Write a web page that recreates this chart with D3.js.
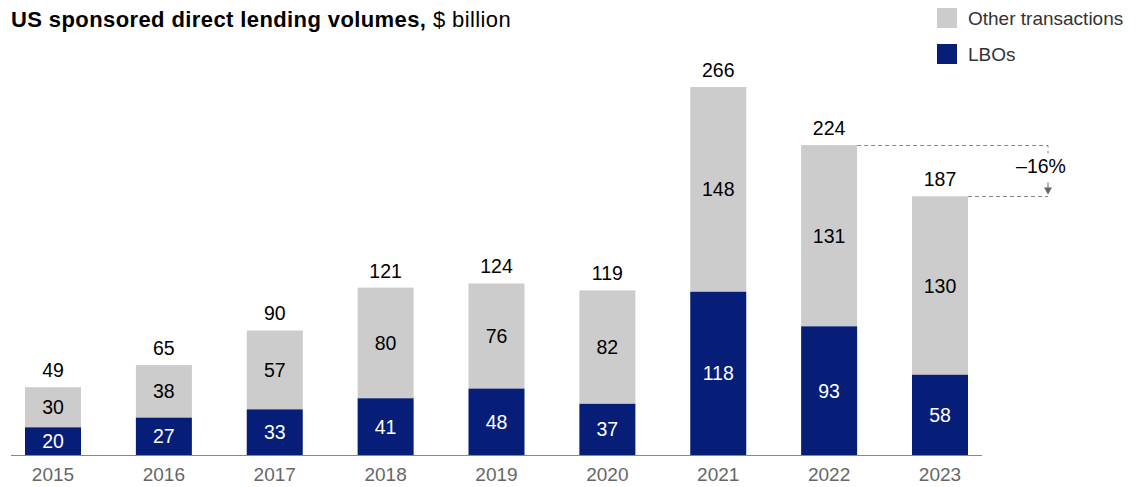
<!DOCTYPE html>
<html>
<head>
<meta charset="utf-8">
<style>
body { margin: 0; background: #fff; }
svg text { font-family: "Liberation Sans", Arial, sans-serif; }
</style>
</head>
<body>
<svg width="1142" height="487"></svg>
<script src="https://cdnjs.cloudflare.com/ajax/libs/d3/7.8.5/d3.min.js"></script>
<script>
// data
var years = ["2015","2016","2017","2018","2019","2020","2021","2022","2023"];
var lbos = [20, 27, 33, 41, 48, 37, 118, 93, 58];
var other = [30, 38, 57, 80, 76, 82, 148, 131, 130];
var totals = [49, 65, 90, 121, 124, 119, 266, 224, 187];
var changeLabel = "\u201316%";

var navy = "#071e78", grey = "#cccccc";

var svg = d3.select("svg");
var baseY = 455;

var x = d3.scalePoint().domain(years).range([53, 940]);
var bw = 56;
var y = d3.scaleLinear().domain([0, 266]).range([baseY, 87]);

// title
var title = svg.append("text").attr("x", 11).attr("y", 27).attr("font-size", 22)
  .attr("letter-spacing", 0.4).attr("fill", "#000");
title.append("tspan").attr("font-weight", "bold").text("US sponsored direct lending volumes,");
title.append("tspan").text(" $ billion");

// legend
var legend = [["Other transactions", grey], ["LBOs", navy]];
var lg = svg.selectAll("g.leg").data(legend).enter().append("g")
  .attr("transform", function(d, i) { return "translate(937," + (8 + i * 36) + ")"; });
lg.append("rect").attr("width", 20).attr("height", 20).attr("fill", function(d) { return d[1]; });
lg.append("text").attr("x", 31).attr("y", 17).attr("font-size", 19).attr("fill", "#333").text(function(d) { return d[0]; });

// bars
var g = svg.append("g");
years.forEach(function(yr, i) {
  var cx = x(yr);
  var lboTop = y(lbos[i]);
  var topY = y(totals[i]);
  g.append("rect").attr("x", cx - bw / 2).attr("y", topY).attr("width", bw)
    .attr("height", lboTop - topY).attr("fill", grey);
  g.append("rect").attr("x", cx - bw / 2).attr("y", lboTop).attr("width", bw)
    .attr("height", baseY - lboTop).attr("fill", navy);
  g.append("text").attr("x", cx).attr("y", (lboTop + baseY) / 2 + 7).attr("text-anchor", "middle")
    .attr("font-size", 19.5).attr("fill", "#fff").text(lbos[i]);
  g.append("text").attr("x", cx).attr("y", (topY + lboTop) / 2 + 7).attr("text-anchor", "middle")
    .attr("font-size", 19.5).attr("fill", "#000").text(other[i]);
  g.append("text").attr("x", cx).attr("y", topY - 10).attr("text-anchor", "middle")
    .attr("font-size", 19.5).attr("fill", "#000").text(totals[i]);
});

// axis
svg.append("line").attr("x1", 11).attr("x2", 982).attr("y1", baseY + 0.5).attr("y2", baseY + 0.5)
  .attr("stroke", "#888").attr("stroke-width", 1);
svg.selectAll("text.yr").data(years).enter().append("text")
  .attr("x", function(d) { return x(d); }).attr("y", 481).attr("text-anchor", "middle")
  .attr("font-size", 19).attr("fill", "#666").text(function(d) { return d; });

// change annotation
var ax = 1048;
var y1 = Math.round(y(totals[7])) + 0.5, y2 = Math.round(y(totals[8])) + 0.5;
var dash = { "stroke": "#888", "stroke-width": 1, "stroke-dasharray": "4,3", "fill": "none" };
svg.append("path").attr("d", "M" + (x("2022") + bw / 2) + "," + y1 + "H" + ax + "V" + (y1 + 8)).call(function(s) { for (var k in dash) s.attr(k, dash[k]); });
svg.append("path").attr("d", "M" + (x("2023") + bw / 2) + "," + y2 + "H" + ax).call(function(s) { for (var k in dash) s.attr(k, dash[k]); });
svg.append("line").attr("x1", ax).attr("x2", ax).attr("y1", y2 - 14).attr("y2", y2 - 8).attr("stroke", "#666");
svg.append("path").attr("d", "M" + (ax - 4) + "," + (y2 - 9) + "L" + (ax + 4) + "," + (y2 - 9) + "L" + ax + "," + (y2 - 2) + "Z").attr("fill", "#666");
svg.append("text").attr("x", 1041).attr("y", 173).attr("text-anchor", "middle").attr("font-size", 19.5).attr("fill", "#000").text(changeLabel);
</script>
</body>
</html>
